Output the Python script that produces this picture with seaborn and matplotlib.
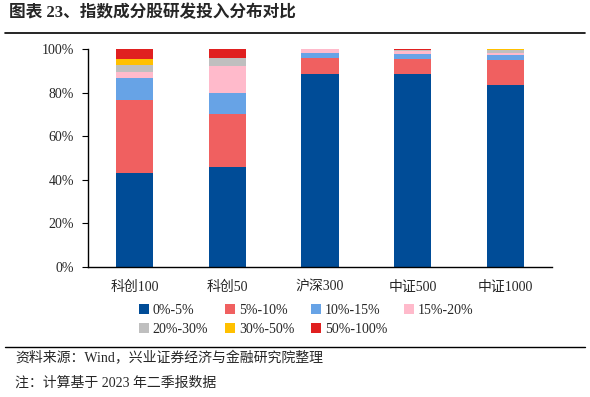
import matplotlib
matplotlib.use("Agg")
import matplotlib.pyplot as plt
import matplotlib.patches as mpatches
from matplotlib.lines import Line2D
import seaborn as sns
import numpy as np
import pandas as pd

categories = ["科创100", "科创50", "沪深300", "中证500", "中证1000"]
series_names = ["0%-5%", "5%-10%", "10%-15%", "15%-20%", "20%-30%", "30%-50%", "50%-100%"]
s_0_5 = [43.1, 45.8, 88.5, 88.5, 83.5]
s_5_10 = [33.6, 24.4, 7.3, 6.9, 11.5]
s_10_15 = [10.0, 9.5, 2.3, 2.3, 2.3]
s_15_20 = [2.7, 12.3, 1.9, 1.2, 0.9]
s_20_30 = [3.3, 3.8, 0.0, 0.5, 1.5]
s_30_50 = [2.7, 0.0, 0.0, 0.2, 0.1]
s_50_100 = [4.6, 4.2, 0.0, 0.4, 0.2]
yticks = [0, 20, 40, 60, 80, 100]

colors = ["#004C97", "#F06060", "#67A3E6", "#FFBACB", "#BFBFBF", "#FFC000", "#E02020"]
all_series = [s_0_5, s_5_10, s_10_15, s_15_20, s_20_30, s_30_50, s_50_100]

sns.set_theme(style="white")
plt.rcParams['font.family'] = ['Liberation Serif', 'Noto Sans CJK SC']
plt.rcParams['axes.unicode_minus'] = False

fig = plt.figure(figsize=(5.9, 3.97), dpi=100)
ax = fig.add_axes([88/590, 1-267/397, (552-88)/590, (267-49)/397])

bottom = np.zeros(len(categories))
for name, vals, c in zip(series_names, all_series, colors):
    df = pd.DataFrame({"cat": categories, "val": np.array(vals) / 100.0})
    sns.barplot(data=df, x="cat", y="val", bottom=bottom, color=c, width=0.4,
                saturation=1, ax=ax, linewidth=0, edgecolor="none")
    bottom = bottom + np.array(vals) / 100.0

ax.set_ylim(0, 1)
ax.set_xlim(-0.5, len(categories) - 0.5)
ax.set_yticks([t / 100 for t in yticks])
ax.set_yticklabels([f"{t}%" for t in yticks], fontsize=10)
ax.set_xticks(range(len(categories)))
ax.set_xticklabels(categories, fontsize=10)
ax.set_xlabel("")
ax.set_ylabel("")
for s in ["top", "right"]:
    ax.spines[s].set_visible(False)
for s in ["left", "bottom"]:
    ax.spines[s].set_color("black")
    ax.spines[s].set_linewidth(1.0)
ax.tick_params(axis="y", which="both", left=True, length=4, width=0.8, color="black", pad=6)
ax.tick_params(axis="x", which="both", bottom=False, pad=4)

handles = [mpatches.Patch(facecolor=c, edgecolor="none", label=n) for n, c in zip(series_names, colors)]
order = [0, 4, 1, 5, 2, 6, 3]
handles = [handles[i] for i in order]
leg = fig.legend(handles=handles, ncol=4, loc="upper left", bbox_to_anchor=(132/590, 1-297/397),
                 frameon=False, fontsize=10, handlelength=0.7, handleheight=0.7,
                 handletextpad=0.3, columnspacing=1.2, labelspacing=0.45, borderpad=0)

# title & footer
fig.text(9/590, 1-13/397, "图表 23、指数成分股研发投入分布对比", fontsize=12, fontweight="bold",
         va="center", ha="left")
fig.add_artist(Line2D([5/590, 585/590], [1-33/397, 1-33/397], color="black", linewidth=1.2))
fig.add_artist(Line2D([5/590, 585/590], [1-347/397, 1-347/397], color="black", linewidth=1.0))
fig.text(15/590, 1-358/397, "资料来源：Wind，兴业证券经济与金融研究院整理", fontsize=10, va="center", ha="left")
fig.text(15/590, 1-383/397, "注：计算基于 2023 年二季报数据", fontsize=10, va="center", ha="left")

fig.savefig("out.png", dpi=100)
